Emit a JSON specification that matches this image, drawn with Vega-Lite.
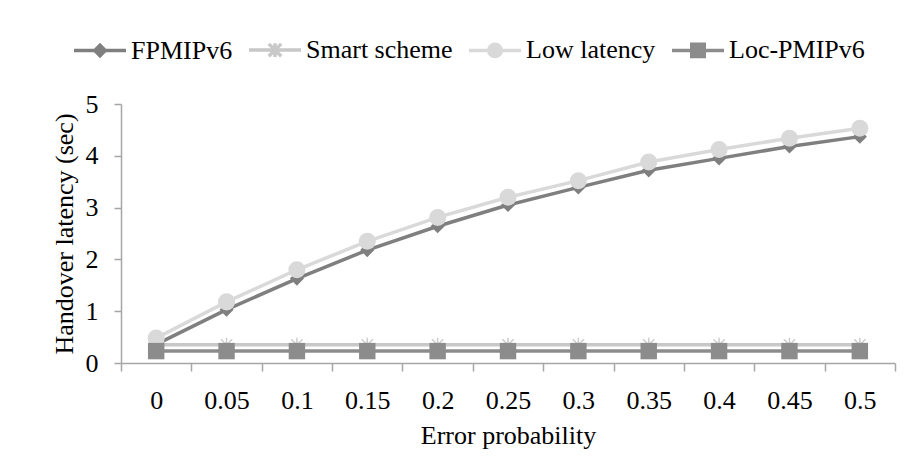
{
  "$schema": "https://vega.github.io/schema/vega-lite/v6.json",
  "autosize": "none",
  "width": 774,
  "height": 259,
  "padding": {"left": 121, "top": 104, "right": 19, "bottom": 110},
  "background": "white",
  "config": {
    "font": "Liberation Serif",
    "view": {"stroke": null},
    "axis": {
      "grid": false,
      "domainColor": "#a6a6a6",
      "domainWidth": 1.5,
      "tickColor": "#a6a6a6",
      "tickWidth": 1.5,
      "labelFont": "Liberation Serif",
      "labelFontSize": 26,
      "labelColor": "#000000",
      "titleFont": "Liberation Serif",
      "titleFontSize": 26,
      "titleFontWeight": "normal",
      "titleColor": "#000000"
    },
    "legend": {
      "labelFont": "Liberation Serif",
      "labelFontSize": 26,
      "labelColor": "#000000"
    }
  },
  "data": {
    "values": [
      {"p": "0", "series": "FPMIPv6", "v": 0.36},
      {"p": "0.05", "series": "FPMIPv6", "v": 1.03},
      {"p": "0.1", "series": "FPMIPv6", "v": 1.63},
      {"p": "0.15", "series": "FPMIPv6", "v": 2.18},
      {"p": "0.2", "series": "FPMIPv6", "v": 2.64},
      {"p": "0.25", "series": "FPMIPv6", "v": 3.05},
      {"p": "0.3", "series": "FPMIPv6", "v": 3.39},
      {"p": "0.35", "series": "FPMIPv6", "v": 3.72},
      {"p": "0.4", "series": "FPMIPv6", "v": 3.95},
      {"p": "0.45", "series": "FPMIPv6", "v": 4.18},
      {"p": "0.5", "series": "FPMIPv6", "v": 4.37},
      {"p": "0", "series": "Smart scheme", "v": 0.35},
      {"p": "0.05", "series": "Smart scheme", "v": 0.35},
      {"p": "0.1", "series": "Smart scheme", "v": 0.35},
      {"p": "0.15", "series": "Smart scheme", "v": 0.35},
      {"p": "0.2", "series": "Smart scheme", "v": 0.35},
      {"p": "0.25", "series": "Smart scheme", "v": 0.35},
      {"p": "0.3", "series": "Smart scheme", "v": 0.35},
      {"p": "0.35", "series": "Smart scheme", "v": 0.35},
      {"p": "0.4", "series": "Smart scheme", "v": 0.35},
      {"p": "0.45", "series": "Smart scheme", "v": 0.35},
      {"p": "0.5", "series": "Smart scheme", "v": 0.35},
      {"p": "0", "series": "Low latency", "v": 0.48},
      {"p": "0.05", "series": "Low latency", "v": 1.18},
      {"p": "0.1", "series": "Low latency", "v": 1.8},
      {"p": "0.15", "series": "Low latency", "v": 2.35},
      {"p": "0.2", "series": "Low latency", "v": 2.81},
      {"p": "0.25", "series": "Low latency", "v": 3.2},
      {"p": "0.3", "series": "Low latency", "v": 3.52},
      {"p": "0.35", "series": "Low latency", "v": 3.88},
      {"p": "0.4", "series": "Low latency", "v": 4.12},
      {"p": "0.45", "series": "Low latency", "v": 4.34},
      {"p": "0.5", "series": "Low latency", "v": 4.53},
      {"p": "0", "series": "Loc-PMIPv6", "v": 0.23},
      {"p": "0.05", "series": "Loc-PMIPv6", "v": 0.23},
      {"p": "0.1", "series": "Loc-PMIPv6", "v": 0.23},
      {"p": "0.15", "series": "Loc-PMIPv6", "v": 0.23},
      {"p": "0.2", "series": "Loc-PMIPv6", "v": 0.23},
      {"p": "0.25", "series": "Loc-PMIPv6", "v": 0.23},
      {"p": "0.3", "series": "Loc-PMIPv6", "v": 0.23},
      {"p": "0.35", "series": "Loc-PMIPv6", "v": 0.23},
      {"p": "0.4", "series": "Loc-PMIPv6", "v": 0.23},
      {"p": "0.45", "series": "Loc-PMIPv6", "v": 0.23},
      {"p": "0.5", "series": "Loc-PMIPv6", "v": 0.23}
    ]
  },
  "encoding": {
    "x": {
      "field": "p",
      "type": "nominal",
      "sort": null,
      "scale": {"type": "band", "paddingInner": 0, "paddingOuter": 0},
      "axis": {
        "title": "Error probability",
        "labelAngle": 0,
        "tickBand": "extent",
        "tickSize": 8,
        "labelPadding": 16,
        "titlePadding": 9
      }
    },
    "y": {
      "field": "v",
      "type": "quantitative",
      "scale": {"domain": [0, 5], "nice": false},
      "axis": {
        "title": "Handover latency (sec)",
        "values": [0, 1, 2, 3, 4, 5],
        "tickSize": 7,
        "labelPadding": 16,
        "titlePadding": 8
      }
    }
  },
  "layer": [
    {
      "transform": [{"filter": "datum.series === 'FPMIPv6'"}],
      "mark": {"type": "line", "strokeWidth": 3.5, "color": "#7f7f7f"},
      "encoding": {}
    },
    {
      "transform": [{"filter": "datum.series === 'FPMIPv6'"}],
      "mark": {"type": "point", "shape": "diamond", "filled": true, "opacity": 1, "size": 200, "color": "#7f7f7f"}
    },
    {
      "transform": [{"filter": "datum.series === 'Smart scheme'"}],
      "mark": {"type": "line", "strokeWidth": 3.5, "color": "#c8c8c8"},
      "encoding": {}
    },
    {
      "transform": [{"filter": "datum.series === 'Smart scheme'"}],
      "mark": {"type": "point", "shape": "M0,-1V1M-0.8,-0.8L0.8,0.8M-0.8,0.8L0.8,-0.8M-1,0H1", "filled": false, "opacity": 1, "size": 200, "strokeWidth": 1.5, "color": "#cccccc"}
    },
    {
      "transform": [{"filter": "datum.series === 'Low latency'"}],
      "mark": {"type": "line", "strokeWidth": 3.5, "color": "#d9d9d9"},
      "encoding": {}
    },
    {
      "transform": [{"filter": "datum.series === 'Low latency'"}],
      "mark": {"type": "point", "shape": "circle", "filled": true, "opacity": 1, "size": 290, "color": "#d9d9d9"}
    },
    {
      "transform": [{"filter": "datum.series === 'Loc-PMIPv6'"}],
      "mark": {"type": "line", "strokeWidth": 3.5, "color": "#8c8c8c"},
      "encoding": {}
    },
    {
      "transform": [{"filter": "datum.series === 'Loc-PMIPv6'"}],
      "mark": {"type": "point", "shape": "square", "filled": true, "opacity": 1, "size": 270, "color": "#8c8c8c"}
    },
    {
      "mark": {"type": "point", "opacity": 0, "strokeWidth": 3.5},
      "encoding": {
        "fill": {
          "field": "series",
          "type": "nominal",
          "sort": ["FPMIPv6", "Smart scheme", "Low latency", "Loc-PMIPv6"],
          "scale": {
            "domain": ["FPMIPv6", "Smart scheme", "Low latency", "Loc-PMIPv6"],
            "range": ["#7f7f7f", "transparent", "#d9d9d9", "#8c8c8c"]
          },
          "legend": {
            "title": null,
            "orient": "none",
            "direction": "horizontal",
            "legendX": -49,
            "legendY": -82,
            "padding": 0,
            "symbolSize": 2704,
            "symbolStrokeWidth": 3.5,
            "symbolOpacity": 1,
            "labelFont": "Liberation Serif",
            "labelFontSize": 26,
            "labelColor": "#000000",
            "labelOffset": 3,
            "columnPadding": 9
          }
        },
        "stroke": {
          "field": "series",
          "type": "nominal",
          "sort": ["FPMIPv6", "Smart scheme", "Low latency", "Loc-PMIPv6"],
          "scale": {
            "domain": ["FPMIPv6", "Smart scheme", "Low latency", "Loc-PMIPv6"],
            "range": ["#7f7f7f", "#c8c8c8", "#d9d9d9", "#8c8c8c"]
          },
          "legend": {
            "title": null,
            "orient": "none",
            "direction": "horizontal",
            "legendX": -49,
            "legendY": -82,
            "padding": 0,
            "symbolSize": 2704,
            "symbolStrokeWidth": 3.5,
            "symbolOpacity": 1,
            "labelFont": "Liberation Serif",
            "labelFontSize": 26,
            "labelColor": "#000000",
            "labelOffset": 3,
            "columnPadding": 9
          }
        },
        "shape": {
          "field": "series",
          "type": "nominal",
          "sort": ["FPMIPv6", "Smart scheme", "Low latency", "Loc-PMIPv6"],
          "scale": {
            "domain": ["FPMIPv6", "Smart scheme", "Low latency", "Loc-PMIPv6"],
            "range": [
              "M-1,0H1M0,-0.2L0.2,0L0,0.2L-0.2,0Z",
              "M-1,0H1M0,-0.26V0.26M-0.24,-0.24L0.24,0.24M-0.24,0.24L0.24,-0.24",
              "M-1,0H1M-0.24,0A0.24,0.24 0 1,0 0.24,0A0.24,0.24 0 1,0 -0.24,0Z",
              "M-1,0H1M-0.24,-0.24H0.24V0.24H-0.24Z"
            ]
          },
          "legend": {
            "title": null,
            "orient": "none",
            "direction": "horizontal",
            "legendX": -49,
            "legendY": -82,
            "padding": 0,
            "symbolSize": 2704,
            "symbolStrokeWidth": 3.5,
            "symbolOpacity": 1,
            "labelFont": "Liberation Serif",
            "labelFontSize": 26,
            "labelColor": "#000000",
            "labelOffset": 3,
            "columnPadding": 9
          }
        }
      }
    }
  ]
}
